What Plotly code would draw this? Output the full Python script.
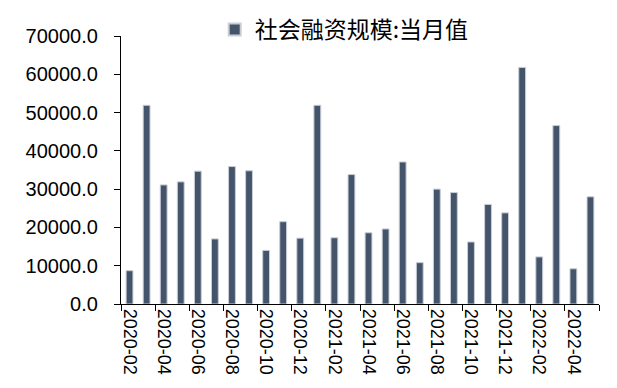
import plotly.graph_objects as go

months = ["2020-02", "2020-03", "2020-04", "2020-05", "2020-06", "2020-07", "2020-08",
          "2020-09", "2020-10", "2020-11", "2020-12", "2021-01", "2021-02", "2021-03",
          "2021-04", "2021-05", "2021-06", "2021-07", "2021-08", "2021-09", "2021-10",
          "2021-11", "2021-12", "2022-01", "2022-02", "2022-03", "2022-04", "2022-05"]
tsf_monthly = [8700, 51900, 31100, 31900, 34700, 17000, 35900, 34800, 14000, 21500,
               17200, 51900, 17300, 33800, 18600, 19600, 37100, 10800, 30000, 29100,
               16200, 26000, 23800, 61800, 12300, 46600, 9200, 28000]
series_name = "社会融资规模:当月值"
y_ticks = [0, 10000, 20000, 30000, 40000, 50000, 60000, 70000]

fig = go.Figure()
fig.add_trace(go.Bar(
    x=months, y=tsf_monthly, name=series_name,
    marker=dict(color="#44546A", line=dict(color="#C8CDD6", width=1)),
    showlegend=True,
))

font_family = "Liberation Sans, Arial, Noto Sans CJK SC, sans-serif"
fig.update_layout(
    width=617, height=388,
    margin=dict(l=113, r=26, t=28, b=92, autoexpand=False),
    paper_bgcolor="white", plot_bgcolor="white",
    bargap=0.6,
    font=dict(family=font_family, color="black", size=20),
    showlegend=True,
    legend=dict(orientation="h", xref="container", yref="container",
                x=0.335, y=1.0, xanchor="left", yanchor="top",
                font=dict(size=23, family="Noto Sans CJK SC, Liberation Sans, sans-serif"),
                bgcolor="rgba(0,0,0,0)", itemsizing="constant"),
    xaxis=dict(type="category", tickson="boundaries", ticks="outside", ticklen=6,
               tickcolor="black", tickwidth=1.3, dtick=2, tickangle=90,
               showline=True, linecolor="black", linewidth=1.3, showgrid=False,
               tickfont=dict(size=18), range=[-0.5, 27.5]),
    yaxis=dict(range=[0, 70000], tickvals=y_ticks, tickformat=".1f",
               ticks="outside", ticklen=6, tickcolor="black", tickwidth=1.3,
               showline=True, linecolor="black", linewidth=1.3, showgrid=False,
               zeroline=False, tickfont=dict(size=20), ticklabelstandoff=12),
)

fig.write_html("out.html")
